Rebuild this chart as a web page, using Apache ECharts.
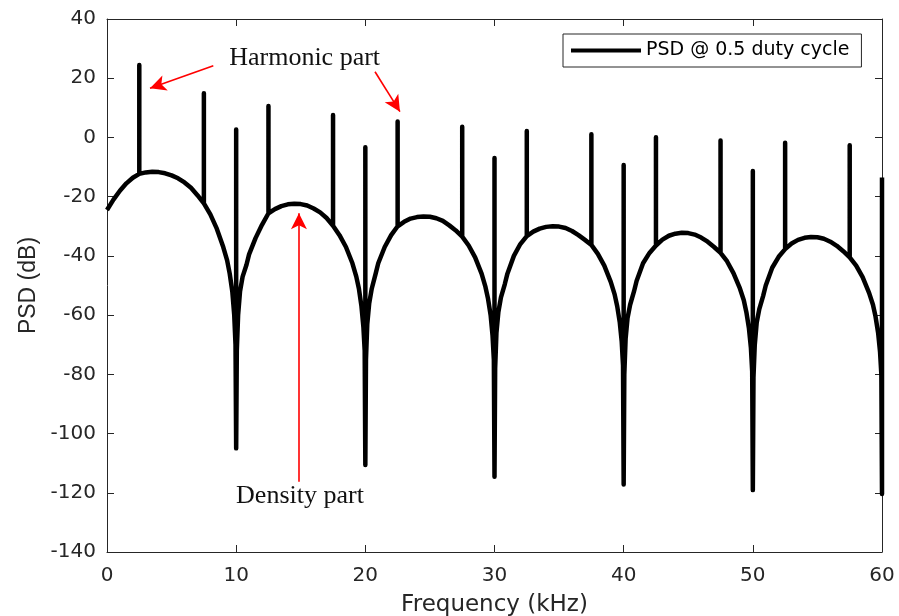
<!DOCTYPE html>
<html>
<head>
<meta charset="utf-8">
<script src="https://cdn.jsdelivr.net/npm/echarts@6/dist/echarts.min.js"></script>
<style>html,body{margin:0;padding:0;background:#fff}#c{width:899px;height:616px}</style>
</head>
<body>
<div id="c"></div>
<script>
// ---- Density (continuous) part: frequency in kHz, PSD in dB ----
const densityFreq = [
  0,0.5,1,1.5,2,2.5,3,3.5,4,4.5,5,5.5,6,6.5,7,7.5,8,8.5,9,9.3,9.5,9.7,9.85,9.95,
  10.05,10.15,10.3,10.5,10.8,11,11.5,12,12.5,13,13.5,14,14.5,15,15.5,16,16.5,17,17.5,18,18.5,19,19.3,19.5,19.7,19.85,19.95,
  20.05,20.15,20.3,20.5,20.8,21,21.5,22,22.5,23,23.5,24,24.5,25,25.5,26,26.5,27,27.5,28,28.5,29,29.3,29.5,29.7,29.85,29.95,
  30.05,30.15,30.3,30.5,30.8,31,31.5,32,32.5,33,33.5,34,34.5,35,35.5,36,36.5,37,37.5,38,38.5,39,39.3,39.5,39.7,39.85,39.95,
  40.05,40.15,40.3,40.5,40.8,41,41.5,42,42.5,43,43.5,44,44.5,45,45.5,46,46.5,47,47.5,48,48.5,49,49.3,49.5,49.7,49.85,49.95,
  50.05,50.15,50.3,50.5,50.8,51,51.5,52,52.5,53,53.5,54,54.5,55,55.5,56,56.5,57,57.5,58,58.5,59,59.3,59.5,59.7,59.85,59.95
];
const densityPSD = [
  -24.5,-21,-18,-15.5,-13.6,-12.3,-11.8,-11.6,-11.7,-12.1,-12.8,-13.8,-15.2,-17,-19.5,-22.3,-26,-30.8,-37,-41.5,-46,-52,-60,-70,
  -72,-60,-52,-47,-43,-39.5,-34,-29.5,-25.6,-24.2,-23.2,-22.6,-22.4,-22.5,-23,-24,-25.3,-27.2,-29.8,-33,-37,-42.5,-47,-51,-57,-64,-72,
  -75,-63,-56,-51,-46,-42.5,-37,-33,-30,-28.5,-27.4,-26.9,-26.7,-26.8,-27.3,-28.2,-29.7,-31.4,-33.5,-36.5,-40.5,-46,-50.5,-54.5,-60,-67,-75,
  -78,-66,-59,-54,-49.5,-46,-40,-36,-33.3,-31.8,-30.8,-30.2,-30,-30.1,-30.6,-31.6,-33,-34.6,-36.3,-39.3,-43.3,-48.8,-53,-57,-62.5,-69,-77,
  -80,-68,-61,-56.5,-52,-48.5,-42.5,-39,-36.5,-34.5,-33.2,-32.5,-32.2,-32.3,-32.8,-33.8,-35.2,-37,-39,-41.8,-45.8,-51,-55,-59,-64.5,-71,-79,
  -81,-70,-62.5,-58,-53.5,-50,-44,-40.3,-37.7,-35.8,-34.6,-33.9,-33.6,-33.7,-34.2,-35.2,-36.6,-38.4,-40.5,-43.3,-47.2,-52.5,-56.5,-60.5,-66,-72.5,-80
];
// ---- Harmonic spikes (odd harmonics of 5 kHz) ----
const harmonicFreq = [2.5,7.5,12.5,17.5,22.5,27.5,32.5,37.5,42.5,47.5,52.5,57.5];
const harmonicTop  = [24.5,14.9,10.6,7.6,5.4,3.6,2.2,1.1,0.1,-1.0,-1.8,-2.6];
// ---- Spikes at the spectral nulls ----
const nullFreq   = [10,20,30,40,50,60];
const nullTop    = [2.7,-3.3,-6.9,-9.3,-11.3,-13.5];
const nullBottom = [-105,-110.6,-114.6,-117.2,-119.1,-120.4];
// ---- Axis ticks ----
const xTicks = [0,10,20,30,40,50,60];
const yTicks = [-140,-120,-100,-80,-60,-40,-20,0,20,40];
const seriesName = 'PSD @ 0.5 duty cycle';

// Build the single poly-line (density + spikes) from the arrays
const pts = [];
let ni = 0;
for (let i = 0; i < densityFreq.length; i++) {
  const f = densityFreq[i], v = densityPSD[i];
  while (ni < nullFreq.length && nullFreq[ni] < f) {
    pts.push([nullFreq[ni], nullBottom[ni]], [nullFreq[ni], nullTop[ni]], [nullFreq[ni], nullBottom[ni]]);
    ni++;
  }
  pts.push([f, v]);
  const hi = harmonicFreq.indexOf(f);
  if (hi >= 0) pts.push([f, harmonicTop[hi]], [f, v]);
}
while (ni < nullFreq.length) {
  pts.push([nullFreq[ni], nullBottom[ni]], [nullFreq[ni], nullTop[ni]]);
  ni++;
}

const axisColor = '#262626';
const tickFont = {fontFamily: 'DejaVu Sans', fontSize: 20, color: axisColor};
const lineCfg = {show: true, onZero: false, lineStyle: {color: axisColor, width: 1}};
const tickCfg = {show: true, inside: true, length: 7, lineStyle: {color: axisColor}};
const chart = echarts.init(document.getElementById('c'), null, {renderer: 'canvas'});
const red = '#ff0000';
chart.setOption({
  animation: false,
  backgroundColor: '#fff',
  grid: {left: 107, right: 17, top: 19, bottom: 64, containLabel: false, outerBoundsMode: 'none'},
  legend: {
    data: [{name: seriesName, icon: 'rect'}], left: 563, top: 34,
    itemWidth: 70, itemHeight: 4, padding: [7, 12, 7, 8],
    borderColor: axisColor, borderWidth: 1, backgroundColor: '#fff',
    itemStyle: {color: '#000'},
    textStyle: {fontFamily: 'DejaVu Sans', fontSize: 19, color: '#000'}
  },
  xAxis: [{
    type: 'value', min: xTicks[0], max: xTicks[xTicks.length-1], interval: 10,
    name: 'Frequency (kHz)', nameLocation: 'middle', nameGap: 42,
    nameTextStyle: {fontFamily: 'DejaVu Sans', fontSize: 23, color: axisColor},
    axisLine: lineCfg, axisTick: tickCfg,
    axisLabel: Object.assign({margin: 14}, tickFont),
    splitLine: {show: false}
  }, {
    type: 'value', position: 'top', min: xTicks[0], max: xTicks[xTicks.length-1], interval: 10,
    axisLine: lineCfg, axisTick: tickCfg,
    axisLabel: {show: false}, splitLine: {show: false}
  }],
  yAxis: [{
    type: 'value', min: yTicks[0], max: yTicks[yTicks.length-1], interval: 20,
    name: 'PSD (dB)', nameLocation: 'middle', nameGap: 61,
    nameTextStyle: {fontFamily: 'Liberation Sans', fontSize: 23, color: axisColor},
    axisLine: lineCfg, axisTick: tickCfg,
    axisLabel: Object.assign({margin: 11}, tickFont),
    splitLine: {show: false}
  }, {
    type: 'value', position: 'right', min: yTicks[0], max: yTicks[yTicks.length-1], interval: 20,
    axisLine: lineCfg, axisTick: tickCfg,
    axisLabel: {show: false}, splitLine: {show: false}
  }],
  series: [{
    name: seriesName, type: 'line', data: pts,
    xAxisIndex: 0, yAxisIndex: 0,
    showSymbol: false, symbol: 'none', clip: false,
    lineStyle: {color: '#000', width: 4.5, join: 'round', cap: 'butt'},
    itemStyle: {color: '#000'},
    markLine: {
      silent: true, animation: false,
      symbol: ['none', 'arrow'], symbolSize: [12, 16],
      label: {show: false},
      lineStyle: {color: red, width: 1.6, type: 'solid'},
      emphasis: {disabled: true},
      data: [
        [{coord: [8.23, 24.2]}, {coord: [3.33, 16.6]}],
        [{coord: [20.75, 22.2]}, {coord: [22.68, 8.7]}],
        [{coord: [14.86, -116.3]}, {coord: [14.86, -25.6]}]
      ]
    },
    markPoint: {
      silent: true, symbol: 'circle', symbolSize: 0,
      label: {show: true, position: 'inside', fontFamily: 'Liberation Serif', fontSize: 26, color: '#111'},
      data: [
        {coord: [15.3, 26.8], label: {formatter: 'Harmonic part'}},
        {coord: [14.94, -121.3], label: {formatter: 'Density part'}}
      ]
    }
  }]
});
</script>
</body>
</html>
